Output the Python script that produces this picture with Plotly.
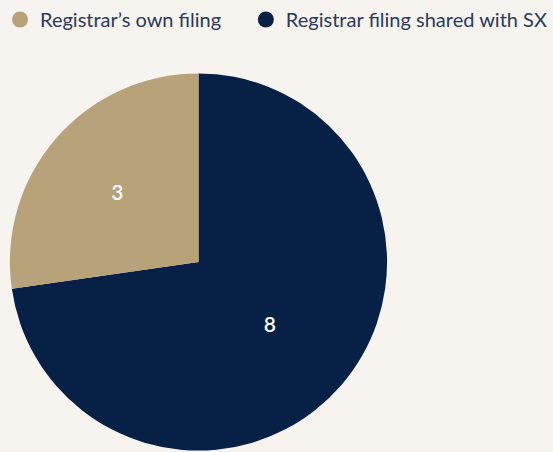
import plotly.graph_objects as go

categories = ["Registrar’s own filing", "Registrar filing shared with SX"]
values = [3, 8]
colors = ["#b8a27a", "#072146"]

fig = go.Figure()
fig.add_trace(go.Pie(
    labels=categories[::-1], values=values[::-1], sort=False, direction="clockwise",
    rotation=0, marker=dict(colors=colors[::-1], line=dict(width=0)),
    textinfo="value", textposition="inside", insidetextorientation="horizontal",
    textfont=dict(family="Lato", size=21, color="white", weight=600),
    showlegend=False, hoverinfo="label+value",
    domain=dict(x=[8/553, 390/553], y=[0, 1 - 72/452]),
))
legend_names = ["legend", "legend2"]
for c, col, lg in zip(categories, colors, legend_names):
    fig.add_trace(go.Scatter(x=[None], y=[None], mode="markers", name=c, legend=lg,
                             marker=dict(symbol="circle", size=16, color=col)))

leg_common = dict(orientation="h", y=1, xanchor="left", yanchor="top",
                  font=dict(family="Lato", size=20, color="#2b3a5e"),
                  bgcolor="rgba(0,0,0,0)")
fig.update_layout(
    width=553, height=452,
    margin=dict(l=0, r=0, t=0, b=0),
    paper_bgcolor="#f7f4ef", plot_bgcolor="#f7f4ef",
    xaxis=dict(visible=False), yaxis=dict(visible=False),
    showlegend=True,
    legend=dict(x=-2/553, **leg_common),
    legend2=dict(x=247/553, **leg_common),
)
fig.write_html("out.html", config={"displayModeBar": False},
               post_script="document.body.style.margin='0';document.body.style.background='#f7f4ef';")
